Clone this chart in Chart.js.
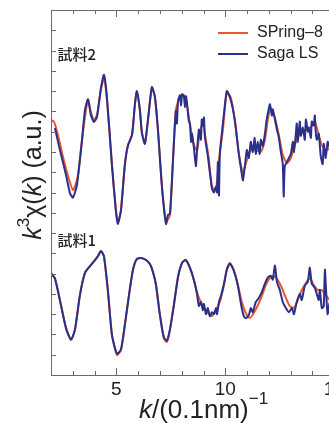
<!DOCTYPE html>
<html>
<head>
<meta charset="utf-8">
<script src="https://cdn.jsdelivr.net/npm/chart.js@4/dist/chart.umd.min.js"></script>
<style>
    html, body { margin: 0; padding: 0; background: #fff; overflow: hidden; }
    #wrap { width: 370px; height: 423px; position: relative; }
</style>
</head>
<body>
<div id="wrap"><canvas id="chart"></canvas></div>
<script>
// 試料2 (upper), SPring-8
const sp8K2 = [2.00, 2.14, 2.32, 2.64, 3.01, 3.24, 3.51, 3.70, 3.83, 3.97, 4.11, 4.29, 4.43, 4.57, 4.80, 4.98, 5.07, 5.21, 5.39, 5.53, 5.72, 5.85, 5.94, 6.08, 6.17, 6.31, 6.45, 6.63, 6.77, 6.91, 7.09, 7.28, 7.46, 7.60, 7.73, 7.92, 8.10, 8.24, 8.38, 8.56, 8.70, 8.83, 8.97, 9.11, 9.25, 9.39, 9.57, 9.71, 9.89, 10.07, 10.26, 10.44, 10.62, 10.81, 10.99, 11.17, 11.40, 11.63, 11.82, 11.95, 12.09, 12.28, 12.46, 12.64, 12.83, 13.01, 13.19, 13.38, 13.56, 13.74, 13.93, 14.11, 14.25, 14.43, 14.61, 14.80, 15.00];
const sp8V2 = [12.57, 12.48, 11.83, 10.36, 9.12, 9.86, 12.33, 13.56, 12.97, 12.57, 12.82, 14.05, 14.64, 13.56, 10.36, 8.14, 7.54, 8.14, 10.36, 11.34, 11.83, 13.31, 13.95, 13.07, 11.98, 11.44, 12.57, 14.15, 13.71, 12.08, 9.37, 7.54, 7.89, 10.60, 13.07, 13.71, 13.81, 13.31, 12.33, 11.34, 11.09, 11.93, 12.43, 11.59, 10.60, 9.27, 9.12, 10.60, 12.08, 13.95, 13.66, 12.57, 10.95, 10.01, 10.60, 11.09, 11.09, 11.00, 11.59, 12.57, 13.17, 12.67, 11.83, 10.85, 10.45, 10.70, 11.34, 11.83, 12.08, 12.08, 12.23, 12.48, 11.98, 11.34, 11.09, 11.19, 11.40];

// 試料2 (upper), Saga LS
const sagaK2 = [2.18, 2.41, 2.69, 2.87, 3.01, 3.19, 3.42, 3.56, 3.70, 3.83, 3.97, 4.11, 4.29, 4.43, 4.57, 4.80, 4.98, 5.07, 5.21, 5.39, 5.53, 5.72, 5.85, 5.94, 6.08, 6.17, 6.31, 6.45, 6.63, 6.77, 6.91, 7.09, 7.28, 7.37, 7.46, 7.60, 7.73, 7.78, 7.83, 7.92, 7.97, 8.02, 8.10, 8.15, 8.20, 8.28, 8.33, 8.38, 8.43, 8.47, 8.56, 8.65, 8.70, 8.79, 8.88, 8.92, 8.97, 9.02, 9.06, 9.11, 9.20, 9.29, 9.39, 9.48, 9.57, 9.62, 9.66, 9.71, 9.75, 9.84, 9.94, 10.07, 10.21, 10.35, 10.48, 10.62, 10.76, 10.81, 10.90, 10.99, 11.08, 11.17, 11.26, 11.35, 11.40, 11.49, 11.58, 11.63, 11.72, 11.82, 11.90, 11.99, 12.05, 12.14, 12.18, 12.28, 12.37, 12.46, 12.55, 12.64, 12.68, 12.73, 12.83, 12.92, 13.01, 13.10, 13.15, 13.24, 13.28, 13.33, 13.42, 13.47, 13.56, 13.65, 13.70, 13.79, 13.83, 13.93, 13.97, 14.06, 14.11, 14.15, 14.20, 14.29, 14.38, 14.47, 14.52, 14.61, 14.70, 14.80, 15.00];
const sagaV2 = [12.18, 11.09, 9.86, 8.97, 8.75, 9.37, 11.59, 13.07, 13.60, 12.82, 12.48, 12.72, 14.15, 14.80, 13.66, 10.30, 8.05, 7.45, 8.10, 10.36, 11.30, 11.85, 13.35, 14.00, 13.07, 11.95, 11.40, 12.57, 14.20, 13.71, 12.08, 9.30, 7.45, 7.90, 7.95, 10.60, 13.00, 12.40, 13.50, 13.80, 13.30, 13.85, 13.75, 13.20, 13.75, 13.00, 12.50, 12.40, 11.50, 11.90, 11.20, 10.30, 11.00, 12.10, 11.60, 12.60, 12.30, 12.70, 11.80, 11.40, 10.80, 10.00, 9.20, 9.00, 9.30, 9.00, 10.50, 8.85, 10.90, 11.90, 12.90, 14.00, 13.70, 13.10, 12.20, 10.90, 9.90, 9.60, 10.30, 11.10, 10.70, 11.50, 11.00, 11.70, 10.90, 11.50, 10.90, 11.60, 11.30, 11.90, 12.60, 13.10, 13.35, 12.80, 13.10, 12.60, 12.10, 11.70, 11.00, 10.40, 8.80, 10.30, 10.50, 10.70, 10.90, 11.50, 11.00, 11.90, 12.40, 11.50, 12.50, 11.80, 12.20, 11.60, 12.60, 12.00, 12.20, 11.70, 12.50, 12.30, 12.80, 12.00, 11.60, 11.90, 10.80, 10.40, 11.40, 10.70, 11.50, 11.20, 11.40];

// 試料1 (lower), SPring-8
const sp8K1 = [2.00, 2.18, 2.41, 2.69, 2.92, 3.10, 3.33, 3.56, 3.79, 4.02, 4.16, 4.29, 4.43, 4.61, 4.80, 5.03, 5.21, 5.39, 5.58, 5.76, 5.94, 6.13, 6.36, 6.54, 6.68, 6.82, 7.00, 7.18, 7.32, 7.46, 7.64, 7.83, 8.01, 8.19, 8.38, 8.56, 8.70, 8.83, 9.02, 9.20, 9.39, 9.57, 9.75, 9.94, 10.07, 10.21, 10.39, 10.58, 10.76, 10.94, 11.13, 11.31, 11.50, 11.68, 11.86, 12.05, 12.23, 12.41, 12.60, 12.78, 12.96, 13.15, 13.33, 13.51, 13.70, 13.88, 14.06, 14.25, 14.43, 14.61, 14.80, 15.00];
const sp8V1 = [5.03, 4.78, 3.70, 2.32, 1.73, 2.22, 3.94, 5.03, 5.37, 5.67, 5.87, 6.11, 5.87, 4.19, 1.97, 0.99, 1.23, 2.47, 3.94, 5.18, 5.72, 5.77, 5.67, 5.47, 5.08, 4.44, 2.96, 1.82, 1.63, 2.22, 3.45, 4.83, 5.52, 5.67, 5.28, 4.68, 4.09, 3.70, 3.35, 3.06, 2.91, 3.21, 3.60, 4.44, 5.18, 5.52, 5.18, 4.44, 3.60, 3.06, 2.81, 3.06, 3.45, 3.90, 4.44, 4.78, 4.88, 4.68, 4.29, 3.80, 3.40, 3.30, 3.70, 4.19, 4.54, 4.78, 4.44, 4.19, 4.19, 3.94, 3.70, 3.80];

// 試料1 (lower), Saga LS
const sagaK1 = [2.00, 2.18, 2.41, 2.69, 2.92, 3.10, 3.33, 3.56, 3.79, 4.02, 4.16, 4.29, 4.43, 4.61, 4.80, 5.03, 5.21, 5.39, 5.58, 5.76, 5.94, 6.13, 6.36, 6.54, 6.68, 6.82, 7.00, 7.18, 7.32, 7.46, 7.64, 7.83, 8.01, 8.19, 8.38, 8.56, 8.70, 8.79, 8.88, 8.97, 9.02, 9.11, 9.20, 9.29, 9.39, 9.48, 9.57, 9.62, 9.71, 9.80, 9.94, 10.07, 10.21, 10.39, 10.58, 10.72, 10.85, 10.94, 11.08, 11.17, 11.26, 11.40, 11.54, 11.68, 11.82, 11.95, 12.09, 12.18, 12.28, 12.37, 12.50, 12.64, 12.78, 12.92, 13.06, 13.15, 13.28, 13.42, 13.51, 13.65, 13.79, 13.88, 13.97, 14.11, 14.20, 14.29, 14.34, 14.43, 14.52, 14.57, 14.66, 14.70, 14.80, 15.00];
const sagaV1 = [5.03, 4.75, 3.68, 2.30, 1.75, 2.25, 3.96, 5.05, 5.37, 5.67, 5.87, 6.11, 5.85, 4.17, 1.95, 1.05, 1.25, 2.47, 3.94, 5.18, 5.72, 5.77, 5.67, 5.47, 5.08, 4.44, 2.96, 1.85, 1.70, 2.25, 3.45, 4.83, 5.52, 5.67, 5.28, 4.68, 4.00, 3.40, 3.60, 3.20, 3.50, 3.00, 3.30, 2.90, 3.10, 3.00, 3.30, 3.00, 3.60, 3.90, 4.50, 5.20, 5.50, 5.15, 4.40, 3.50, 2.90, 2.80, 2.95, 3.30, 3.10, 3.60, 3.80, 4.10, 4.50, 4.80, 4.90, 4.70, 5.40, 4.60, 4.20, 3.60, 3.30, 3.10, 3.30, 3.00, 3.60, 4.00, 3.70, 4.40, 4.60, 5.30, 4.50, 4.30, 4.00, 3.70, 4.20, 3.30, 3.40, 5.20, 3.50, 3.00, 3.60, 3.80];

const seriesNames = ['SPring\u20138', 'Saga LS'];
const seriesColors = ['#e8582c', '#2b2f8c'];
const sampleLabels = [{ text: '試料2', k: 2.3, v: 15.8 }, { text: '試料1', k: 2.3, v: 6.65 }];
const xTickLabels = [5, 10, 15];

function pts(ks, vs) {
    return ks.map((k, i) => ({ x: k, y: vs[i] }));
}

const FONT = "'Liberation Sans', Arial, sans-serif";
const AXIS_COLOR = '#6a6a6a';

// рамка, засечки внутрь, подписи осей, легенда
const framePlugin = {
    id: 'frame',
    afterDraw(chart) {
        const ctx = chart.ctx;
        const a = chart.chartArea;
        const xs = chart.scales.x;
        const ys = chart.scales.y;
        ctx.save();
        ctx.strokeStyle = AXIS_COLOR;
        ctx.lineWidth = 1;
        ctx.beginPath();
        ctx.moveTo(a.left + 0.5, a.bottom + 0.5);
        ctx.lineTo(a.left + 0.5, a.top + 0.5);
        ctx.lineTo(a.right, a.top + 0.5);
        ctx.moveTo(a.left, a.bottom + 0.5);
        ctx.lineTo(a.right, a.bottom + 0.5);
        for (let k = 2; k <= 16; k++) {
            const px = Math.round(xs.getPixelForValue(k)) + 0.5;
            const len = xTickLabels.includes(k) ? 7 : 4;
            ctx.moveTo(px, a.bottom);
            ctx.lineTo(px, a.bottom - len);
            ctx.moveTo(px, a.top);
            ctx.lineTo(px, a.top + len);
        }
        for (let v = 1; v < 18; v++) {
            const py = Math.round(ys.getPixelForValue(v)) + 0.5;
            ctx.moveTo(a.left, py);
            ctx.lineTo(a.left + 5, py);
        }
        ctx.stroke();

        // подписи образцов
        ctx.fillStyle = '#222';
        ctx.font = "500 15px 'Noto Sans CJK JP', sans-serif";
        ctx.textBaseline = 'middle';
        ctx.textAlign = 'left';
        sampleLabels.forEach(s => {
            ctx.fillText(s.text, xs.getPixelForValue(s.k), ys.getPixelForValue(s.v));
        });

        // легенда
        ctx.font = '16px ' + FONT;
        seriesNames.forEach((name, i) => {
            const y = 33 + i * 21;
            ctx.strokeStyle = seriesColors[i];
            ctx.lineWidth = 2;
            ctx.beginPath();
            ctx.moveTo(218, y);
            ctx.lineTo(248, y);
            ctx.stroke();
            ctx.fillStyle = '#222';
            ctx.fillText(name, 257, y);
        });

        // подпись оси X: k/(0.1nm)^-1
        const xParts = [
            { t: 'k', f: 'italic 26px ' + FONT, dy: 0 },
            { t: '/(0.1nm)', f: '26px ' + FONT, dy: 0 },
            { t: '\u22121', f: '17px ' + FONT, dy: -14 }
        ];
        drawParts(ctx, xParts, xs.getPixelForValue(9), 418, 0);

        // подпись оси Y: k^3 χ(k) (a.u.)
        const yParts = [
            { t: 'k', f: 'italic 25px ' + FONT, dy: 0 },
            { t: '3', f: '17px ' + FONT, dy: -12 },
            { t: '\u03c7(', f: '25px ' + FONT, dy: 0 },
            { t: 'k', f: 'italic 25px ' + FONT, dy: 0 },
            { t: ') (a.u.)', f: '25px ' + FONT, dy: 0 }
        ];
        drawParts(ctx, yParts, 41, 175, -Math.PI / 2);
        ctx.restore();
    }
};

function drawParts(ctx, parts, cx, baseline, rot) {
    ctx.save();
    ctx.translate(cx, baseline);
    ctx.rotate(rot);
    ctx.textBaseline = 'alphabetic';
    ctx.textAlign = 'left';
    ctx.fillStyle = '#222';
    let total = 0;
    parts.forEach(p => { ctx.font = p.f; total += ctx.measureText(p.t).width; });
    let x = -total / 2;
    parts.forEach(p => {
        ctx.font = p.f;
        ctx.fillText(p.t, x, p.dy);
        x += ctx.measureText(p.t).width;
    });
    ctx.restore();
}

const lineStyle = (color, order) => ({
    borderColor: color,
    borderWidth: 2,
    pointRadius: 0,
    tension: 0.2,
    fill: false,
    order: order
});

const ctx = document.getElementById('chart').getContext('2d');
new Chart(ctx, {
    type: 'line',
    data: {
        datasets: [
            { label: seriesNames[0], data: pts(sp8K2, sp8V2), ...lineStyle(seriesColors[0], 2) },
            { label: seriesNames[1], data: pts(sagaK2, sagaV2), ...lineStyle(seriesColors[1], 1) },
            { label: seriesNames[0], data: pts(sp8K1, sp8V1), ...lineStyle(seriesColors[0], 2) },
            { label: seriesNames[1], data: pts(sagaK1, sagaV1), ...lineStyle(seriesColors[1], 1) }
        ]
    },
    options: {
        responsive: true,
        maintainAspectRatio: false,
        animation: false,
        events: [],
        layout: { padding: { top: 10, right: 14, left: 0, bottom: 0 } },
        plugins: {
            legend: { display: false },
            tooltip: { enabled: false }
        },
        scales: {
            x: {
                type: 'linear',
                min: 2,
                max: 16,
                grid: { display: false, drawTicks: false },
                border: { display: false },
                ticks: {
                    stepSize: 1,
                    autoSkip: false,
                    maxRotation: 0,
                    padding: 3,
                    color: '#222',
                    font: { family: FONT, size: 19 },
                    callback: v => xTickLabels.includes(v) ? String(v) : ''
                },
                afterFit: s => { s.height = 48; }
            },
            y: {
                type: 'linear',
                min: 0,
                max: 18,
                grid: { display: false, drawTicks: false },
                border: { display: false },
                ticks: { display: false, stepSize: 1 },
                afterFit: s => { s.width = 51; }
            }
        }
    },
    plugins: [framePlugin]
});
</script>
</body>
</html>
